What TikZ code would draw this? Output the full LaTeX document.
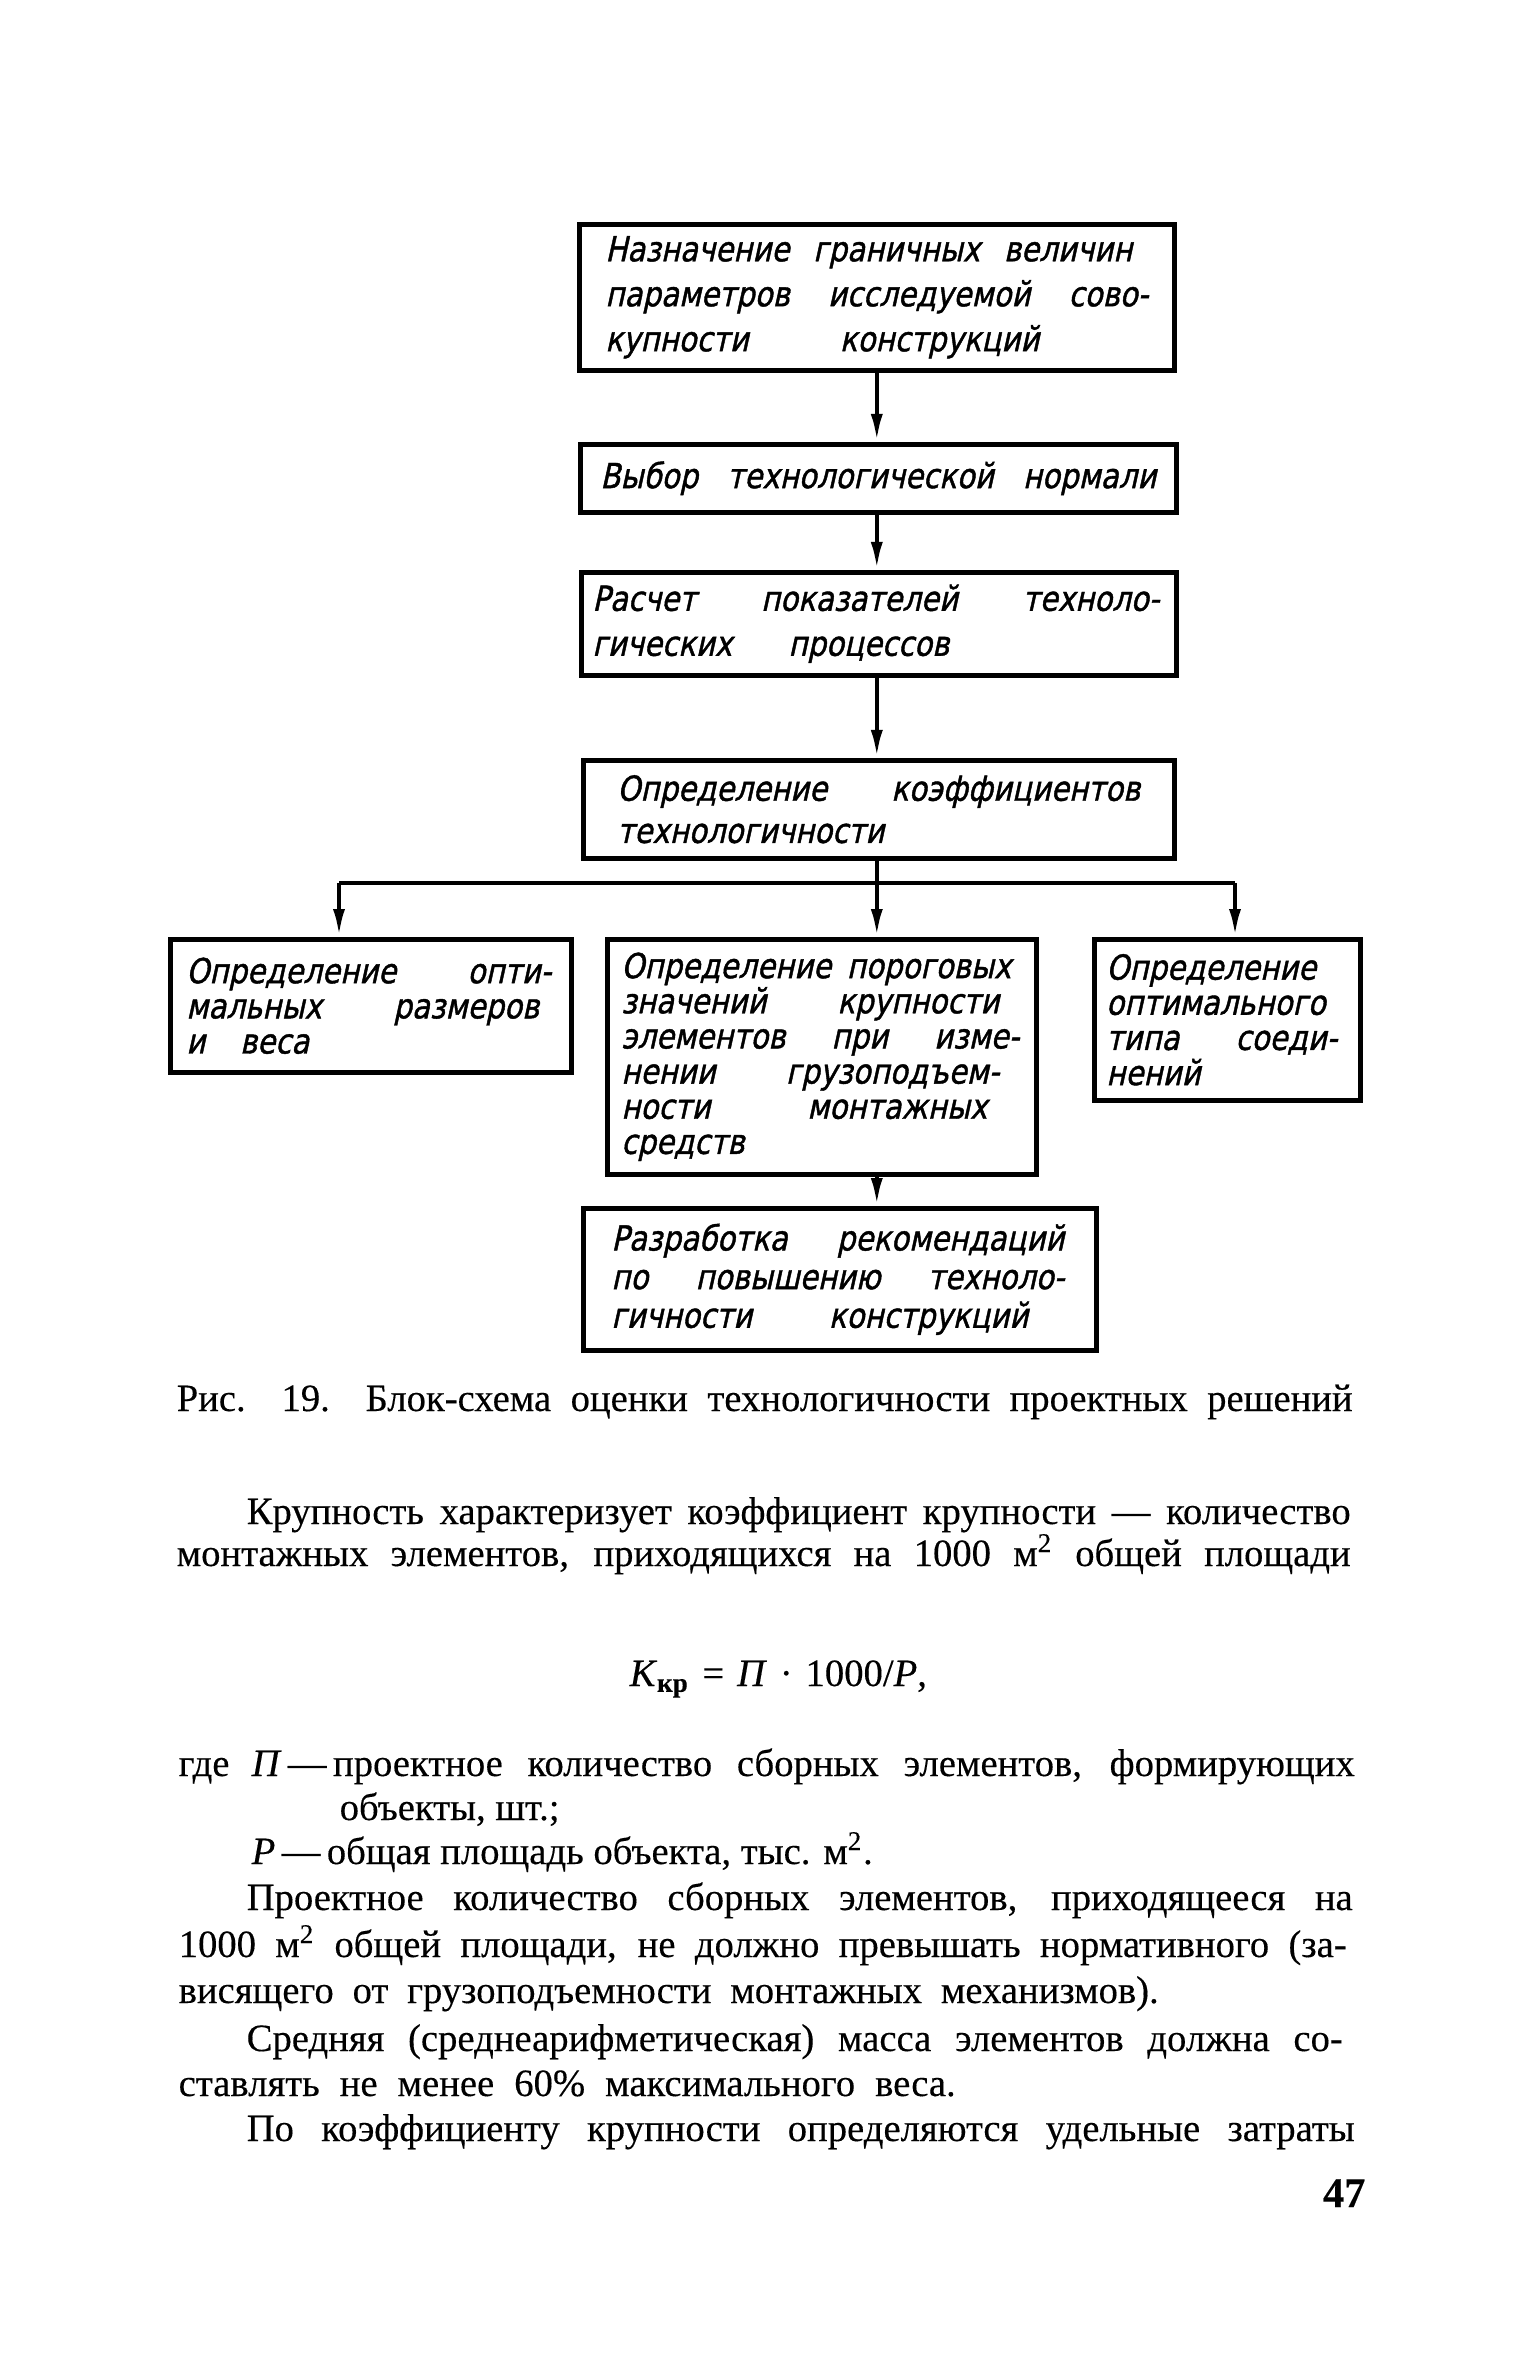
\documentclass[tikz,border=0pt]{standalone}
\usepackage{fontspec}
\setmainfont[FakeBold=0.3]{Liberation Serif}
\newfontfamily\gost[FakeSlant=0.22,FakeStretch=0.85,FakeBold=1.2]{DejaVu Sans}
\usetikzlibrary{arrows.meta}
\newlength\px \setlength\px{0.1mm}
\newcommand\jw[2]{\makebox[#1\px][s]{\spaceskip=0.3333em plus 1fil\relax #2}}
\begin{document}
\begin{tikzpicture}[x=0.1mm,y=-0.1mm,
  blk/.style={draw, line width=1.3pt, anchor=north west, align=left, inner ysep=0pt},
  gf/.style={font=\gost\fontsize{9.8pt}{#1}\selectfont},
  arr/.style={line width=1.2pt, -{Latex[length=2.8mm,width=1.2mm]}},
  bus/.style={line width=1.2pt},
  txt/.style={anchor=base west, inner sep=0pt, font=\fontsize{11pt}{13pt}\selectfont},
]
\fill[white] (0,0) rectangle (1536,2363);
\useasboundingbox (0,0) rectangle (1536,2363);

% ---------- boxes ----------
\node[blk, gf=12.8pt, minimum width=595\px, minimum height=146\px, inner xsep=26\px, text width=543\px] (b1) at (577,222)
 {\jw{527}{Назначение граничных величин}\\ \jw{543}{параметров исследуемой сово-}\\ \jw{434}{купности конструкций}};
\node[blk, gf=12.8pt, minimum width=596\px, minimum height=68\px, inner xsep=20\px, text width=556\px] (b2) at (578,442)
 {\jw{556}{Выбор технологической нормали}};
\node[blk, gf=12.8pt, minimum width=595\px, minimum height=103\px, inner xsep=11\px, text width=573\px] (b3) at (579,570)
 {\jw{567}{Расчет показателей техноло-}\\ \jw{357}{гических процессов}};
\node[blk, gf=12pt, minimum width=591\px, minimum height=98\px, inner xsep=34\px, text width=523\px] (b4) at (581,758)
 {\jw{523}{Определение коэффициентов}\\ технологичности};
\node[blk, gf=10pt, minimum width=401\px, minimum height=133\px, inner xsep=16\px, text width=369\px] (bL) at (168,937)
 {\jw{365}{Определение опти-}\\ \jw{353}{мальных размеров}\\ \jw{123}{и веса}};
\node[blk, gf=10pt, minimum width=429\px, minimum height=235\px, inner xsep=14\px, text width=401\px] (bM) at (605,937)
 {\jw{390}{Определение пороговых}\\ \jw{378}{значений крупности}\\ \jw{398}{элементов при изме-}\\ \jw{378}{нении грузоподъем-}\\ \jw{366}{ности монтажных}\\ средств};
\node[blk, gf=10pt, minimum width=266\px, minimum height=161\px, inner xsep=12\px, text width=242\px] (bR) at (1092,937)
 {Определение\\ оптимального\\ \jw{231}{типа соеди-}\\ нений};
\node[blk, gf=11pt, minimum width=513\px, minimum height=142\px, inner xsep=28\px, text width=457\px] (b5) at (581,1206)
 {\jw{453}{Разработка рекомендаций}\\ \jw{453}{по повышению техноло-}\\ \jw{417}{гичности конструкций}};

% ---------- connectors ----------
\coordinate (busL) at (339,883);
\coordinate (busR) at (1235,883);
\draw[arr] (b1.south) -- (b1.south |- b2.north);
\draw[arr] (b1.south |- b2.south) -- (b1.south |- b3.north);
\draw[arr] (b1.south |- b3.south) -- (b1.south |- b4.north);
\draw[bus] (b1.south |- b4.south) -- (b1.south |- busL);
\draw[bus] (busL) -- (busR);
\draw[arr] (busL) -- (busL |- bL.north);
\draw[arr] (b1.south |- busL) -- (b1.south |- bM.north);
\draw[arr] (busR) -- (busR |- bR.north);
\draw[arr] (b1.south |- bM.south) -- (b1.south |- b5.north);

% ---------- caption ----------
\node[txt] (cap) at (176,1411)
 {\jw{1176}{Рис. 19. Блок-схема оценки технологичности проектных решений}};

% ---------- body text ----------
\node[txt] (t1) at (246,1524) {\jw{1104}{Крупность характеризует коэффициент крупности — количество}};
\node[txt] (t2) at (176,1566) {\jw{1174}{монтажных элементов, приходящихся на 1000 м\textsuperscript{2} общей площади}};
\node[txt] (f1) at (629,1686) {\jw{296}{\textit{K}\textsubscript{\textbf{кр}} = \textit{П} · 1000/\textit{P},}};
\node[txt] (t3a) at (178,1776) {где};
\node[txt] (t3) at (251,1776) {\jw{1103}{\textit{П}\,—\,проектное количество сборных элементов, формирующих}};
\node[txt] (t4) at (339,1820) {объекты, шт.;};
\node[txt] (t5) at (251,1864) {\textit{Р}\,—\,общая площадь объекта, тыс. м\textsuperscript{2}.};
\node[txt] (t6) at (246,1910) {\jw{1106}{Проектное количество сборных элементов, приходящееся на}};
\node[txt] (t7) at (178,1957) {\jw{1168}{1000 м\textsuperscript{2} общей площади, не должно превышать нормативного (за-}};
\node[txt] (t8) at (178,2003) {\jw{980}{висящего от грузоподъемности монтажных механизмов).}};
\node[txt] (t9) at (246,2051) {\jw{1096}{Средняя (среднеарифметическая) масса элементов должна со-}};
\node[txt] (t10) at (178,2096) {\jw{777}{ставлять не менее 60\% максимального веса.}};
\node[txt] (t11) at (246,2141) {\jw{1108}{По коэффициенту крупности определяются удельные затраты}};
\node[txt, anchor=base east, font=\bfseries\fontsize{12pt}{13pt}\selectfont] (pg) at (1366,2207) {47};
\end{tikzpicture}
\end{document}
